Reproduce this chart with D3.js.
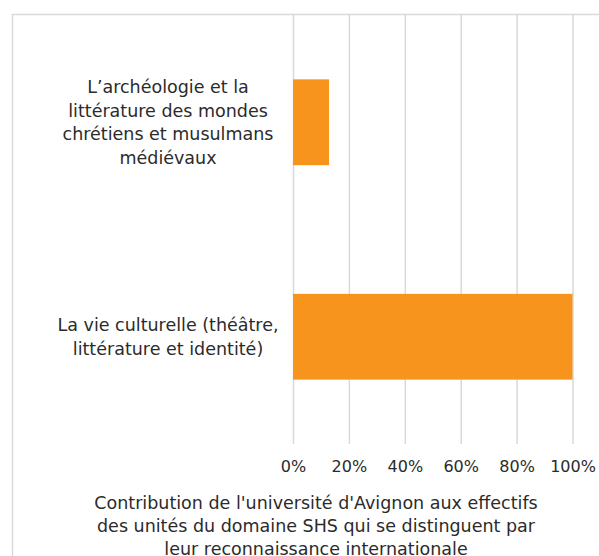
<!DOCTYPE html>
<html>
<head>
<meta charset="utf-8">
<script src="https://cdn.jsdelivr.net/npm/d3@7"></script>
<style>
  body { margin: 0; background: #fff; }
  text { font-family: "DejaVu Sans", sans-serif; fill: #2b2b2b; }
</style>
</head>
<body>
<script>
var width = 599, height = 556;

// categories, each one already split into its display lines
var categories = [
  ["L\u2019archéologie et la", "littérature des mondes", "chrétiens et musulmans", "médiévaux"],
  ["La vie culturelle (théâtre,", "littérature et identité)"]
];
var values = [0.129, 1.0];
var tickValues = [0, 0.2, 0.4, 0.6, 0.8, 1.0];
var axisTitle = [
  "Contribution de l'université d'Avignon aux effectifs",
  "des unités du domaine SHS qui se distinguent par",
  "leur reconnaissance internationale"
];

var plot = {left: 293, right: 572.5, top: 15, bottom: 444};

var svg = d3.select("body").append("svg")
    .attr("width", width)
    .attr("height", height);

// chart frame
svg.append("rect")
    .attr("x", 12.5).attr("y", 14.5)
    .attr("width", 620).attr("height", 600)
    .attr("fill", "none")
    .attr("stroke", "#d9d9d9")
    .attr("stroke-width", 1.5);

var x = d3.scaleLinear()
    .domain([0, 1])
    .range([plot.left, plot.right]);

var y = d3.scaleBand()
    .domain(d3.range(categories.length))
    .range([plot.top, plot.bottom])
    .paddingInner(0.6)
    .paddingOuter(0.3);

// gridlines
var grid = svg.append("g")
    .attr("transform", "translate(0," + plot.bottom + ")")
    .call(d3.axisBottom(x).tickValues(tickValues).tickSize(-(plot.bottom - plot.top)).tickFormat(""));
grid.select(".domain").remove();
grid.selectAll("line").attr("stroke", "#d9d9d9").attr("stroke-width", 1.5);

// bars
svg.selectAll(".bar")
    .data(values)
    .enter().append("rect")
      .attr("class", "bar")
      .attr("x", x(0))
      .attr("y", function(d, i) { return y(i); })
      .attr("width", function(d) { return x(d) - x(0); })
      .attr("height", y.bandwidth())
      .attr("fill", "#f7941d");

// tick labels
var xAxis = svg.append("g")
    .attr("transform", "translate(0," + plot.bottom + ")")
    .call(d3.axisBottom(x).tickValues(tickValues).tickSize(0).tickPadding(17).tickFormat(d3.format(".0%")));
xAxis.select(".domain").remove();
xAxis.selectAll("text")
    .attr("font-size", 16)
    .style("font-family", "\"DejaVu Sans\", sans-serif")
    .attr("fill", "#2b2b2b");

// category labels
var catLabels = svg.selectAll(".cat")
    .data(categories)
    .enter().append("text")
      .attr("class", "cat")
      .attr("text-anchor", "middle")
      .attr("font-size", 17.5)
      .attr("y", function(d, i) {
        return y(i) + y.bandwidth() / 2 - (d.length - 1) * 23.5 / 2;
      });

catLabels.selectAll("tspan")
    .data(function(d) { return d; })
    .enter().append("tspan")
      .attr("x", 168)
      .attr("dy", function(d, i) { return i === 0 ? "0.35em" : 23.5; })
      .text(function(d) { return d; });

// axis title
svg.append("text")
    .attr("text-anchor", "middle")
    .attr("font-size", 17.5)
    .attr("y", 503)
  .selectAll("tspan")
    .data(axisTitle)
    .enter().append("tspan")
      .attr("x", 316)
      .attr("dy", function(d, i) { return i === 0 ? "0.35em" : 23; })
      .text(function(d) { return d; });
</script>
</body>
</html>
